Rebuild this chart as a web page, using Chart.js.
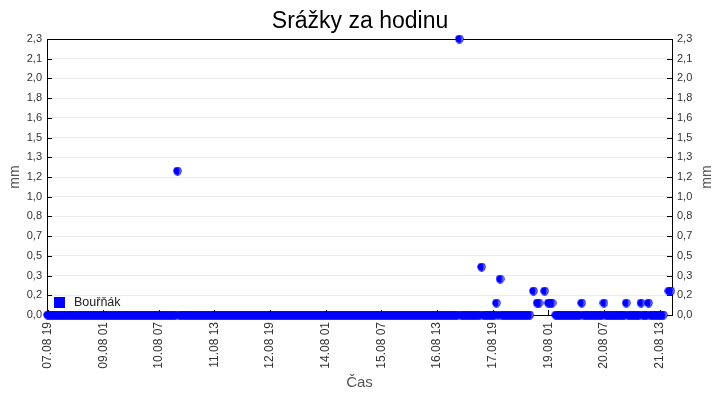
<!DOCTYPE html>
<html>
<head>
<meta charset="utf-8">
<script src="https://cdn.jsdelivr.net/npm/chart.js@4"></script>
<style>
  html, body { margin: 0; padding: 0; background: #fff; }
  #obal { width: 720px; height: 400px; }
</style>
</head>
<body>
<div id="obal"><canvas id="graf_srazky"></canvas></div>
<script>
/*------------------------------*/
/*     DATA                     */
/*------------------------------*/
// hodiny od 07.08 19:00
var posledniHodina = 336
var hodinySrazek = [70, 222, 234, 242, 244, 262, 264, 265, 268, 270, 271, 272, 288, 300, 312, 320, 324, 335, 336]
var hodnotySrazek = [1.2, 2.3, 0.4, 0.1, 0.3, 0.2, 0.1, 0.1, 0.2, 0.1, 0.1, 0.1, 0.1, 0.1, 0.1, 0.1, 0.1, 0.2, 0.2]
var chybejiciHodiny = [261, 263, 266, 267, 269, 273, 333, 334]

var xTickHodiny = [0, 30, 60, 90, 120, 150, 180, 210, 240, 270, 300, 330]
var xTickPopisky = ['07.08 19', '09.08 01', '10.08 07', '11.08 13', '12.08 19', '14.08 01',
                    '15.08 07', '16.08 13', '17.08 19', '19.08 01', '20.08 07', '21.08 13']
var yMax = 2.3
var yTickPopisky = ['0,0', '0,2', '0,3', '0,5', '0,7', '0,8', '1,0', '1,2', '1,3', '1,5', '1,6', '1,8', '2,0', '2,1', '2,3']

var bodySrazek = []
for (var h = 0; h <= posledniHodina; h++) {
  var i = hodinySrazek.indexOf(h)
  if (i >= 0) bodySrazek.push({ x: h, y: hodnotySrazek[i] })
  else if (chybejiciHodiny.indexOf(h) < 0) bodySrazek.push({ x: h, y: 0 })
}

/*------------------------------*/
/*     ZNACKA BODU              */
/*------------------------------*/
function znacka() {
  var c = document.createElement('canvas')
  c.width = 9; c.height = 9
  var g = c.getContext('2d')
  g.fillStyle = '#0000ff'
  g.beginPath(); g.arc(4.5, 4.5, 4.2, 0, 2 * Math.PI); g.fill()
  g.strokeStyle = 'rgba(255,255,255,0.85)'
  g.lineWidth = 0.8
  g.beginPath(); g.arc(4.5, 4.5, 2.8, -1.0, 1.0); g.stroke()
  return c
}

var pismo = 'Arial, "Liberation Sans", sans-serif'

// ramecek, vnitrni carky os, legenda a pravy popisek osy
var doplnky = {
  id: 'doplnky',
  beforeDatasetsDraw: function (chart) {
    var a = chart.chartArea, ctx = chart.ctx
    ctx.save()
    ctx.strokeStyle = '#000'
    ctx.lineWidth = 1
    ctx.beginPath()
    chart.scales.y.ticks.forEach(function (t) {
      var y = Math.round(chart.scales.y.getPixelForValue(t.value)) + 0.5
      ctx.moveTo(a.left, y); ctx.lineTo(a.left + 5, y)
      ctx.moveTo(a.right - 5, y); ctx.lineTo(a.right, y)
    })
    chart.scales.x.ticks.forEach(function (t) {
      var x = Math.round(chart.scales.x.getPixelForValue(t.value)) + 0.5
      ctx.moveTo(x, a.bottom); ctx.lineTo(x, a.bottom - 5)
    })
    ctx.stroke()
    ctx.strokeRect(Math.round(a.left) + 0.5, Math.round(a.top) + 0.5,
                   Math.round(a.right - a.left), Math.round(a.bottom - a.top))
    ctx.restore()
  },
  afterDraw: function (chart) {
    var a = chart.chartArea, ctx = chart.ctx
    ctx.save()
    // legenda
    ctx.fillStyle = '#0000ff'
    ctx.fillRect(a.left + 7, a.bottom - 18, 11, 11)
    ctx.fillStyle = '#222'
    ctx.font = '12.5px ' + pismo
    ctx.textBaseline = 'middle'
    ctx.fillText(chart.data.datasets[0].label, a.left + 27, a.bottom - 12)
    // pravy popisek osy
    ctx.translate(707, (a.top + a.bottom) / 2)
    ctx.rotate(-Math.PI / 2)
    ctx.textAlign = 'center'
    ctx.fillStyle = '#555'
    ctx.font = '14px ' + pismo
    ctx.fillText('mm', 0, 0)
    ctx.restore()
  }
}

var ctx_srazky = document.getElementById('graf_srazky').getContext('2d')

var config_srazky = {
  type: 'scatter',
  data: {
    datasets: [{
      label: 'Bouřňák',
      data: bodySrazek,
      pointStyle: znacka(),
      pointRadius: 4,
      pointHoverRadius: 4,
      backgroundColor: '#0000ff',
      borderColor: '#0000ff',
      clip: false
    }]
  },
  options: {
    responsive: true,
    maintainAspectRatio: false,
    animation: false,
    devicePixelRatio: 1,
    layout: { padding: 0 },
    plugins: {
      legend: { display: false },
      tooltip: { enabled: false },
      title: {
        display: true,
        text: 'Srážky za hodinu',
        color: '#000',
        font: { family: pismo, size: 23, weight: 'normal' },
        padding: { top: 8, bottom: 3.4 }
      }
    },
    scales: {
      x: {
        type: 'linear',
        min: -0.3,
        max: 336.7,
        afterFit: function (s) { s.height = 85 },
        afterBuildTicks: function (s) { s.ticks = xTickHodiny.map(function (v) { return { value: v } }) },
        grid: { display: false, drawTicks: false },
        border: { color: '#000', width: 1 },
        ticks: {
          autoSkip: false,
          minRotation: 90,
          maxRotation: 90,
          padding: 7,
          color: '#333',
          font: { family: pismo, size: 12 },
          callback: function (v, i) { return xTickPopisky[i] }
        },
        title: {
          display: true,
          text: 'Čas',
          color: '#555',
          font: { family: pismo, size: 15 },
          padding: { top: 0, bottom: 8 }
        }
      },
      y: {
        position: 'left',
        min: 0,
        max: yMax,
        afterFit: function (s) { s.width = 47 },
        afterBuildTicks: function (s) {
          s.ticks = yTickPopisky.map(function (t, i) { return { value: i * yMax / (yTickPopisky.length - 1) } })
        },
        grid: { color: '#ebebeb', drawTicks: false },
        border: { color: '#000', width: 1 },
        ticks: {
          autoSkip: false,
          padding: 5,
          color: '#333',
          font: { family: pismo, size: 11 },
          callback: function (v, i) { return yTickPopisky[i] }
        },
        title: {
          display: true,
          text: 'mm',
          color: '#555',
          font: { family: pismo, size: 14 },
          padding: { top: 7, bottom: 0 }
        }
      },
      y2: {
        position: 'right',
        min: 0,
        max: yMax,
        afterFit: function (s) { s.width = 48 },
        afterBuildTicks: function (s) {
          s.ticks = yTickPopisky.map(function (t, i) { return { value: i * yMax / (yTickPopisky.length - 1) } })
        },
        grid: { display: false, drawTicks: false },
        border: { color: '#000', width: 1 },
        ticks: {
          autoSkip: false,
          padding: 5,
          color: '#333',
          font: { family: pismo, size: 11 },
          callback: function (v, i) { return yTickPopisky[i] }
        }
      }
    }
  },
  plugins: [doplnky]
}
var graf_srazky = new Chart(ctx_srazky, config_srazky)
</script>
</body>
</html>
